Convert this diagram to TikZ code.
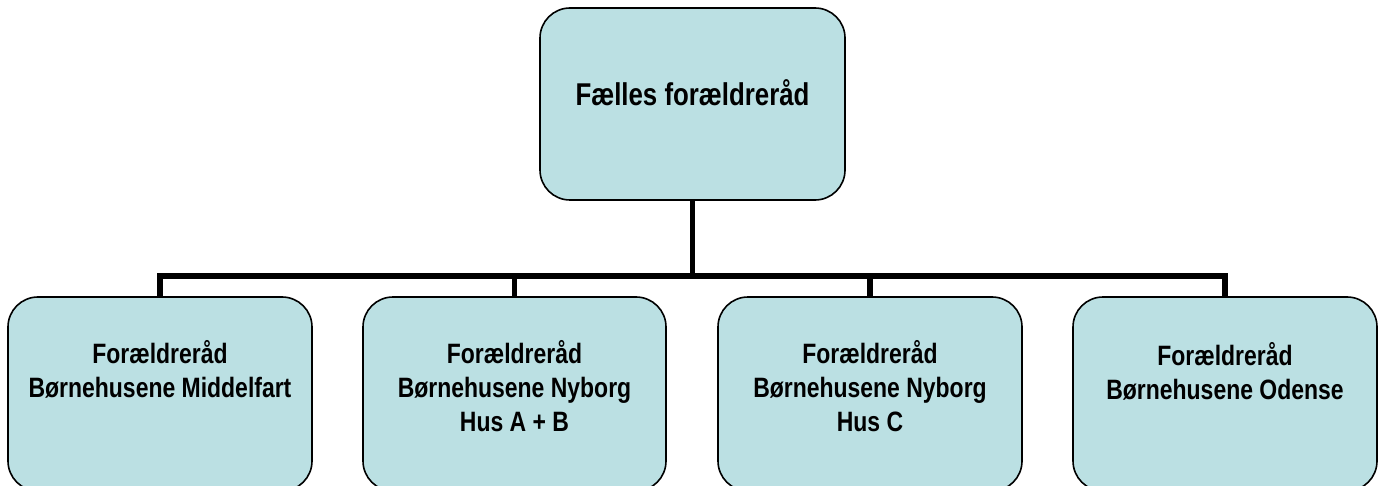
\documentclass[tikz,border=0pt]{standalone}
\usepackage{fontspec}
\setmainfont{Liberation Sans}[FakeStretch=0.82]
\definecolor{boxfill}{HTML}{BBE0E3}
\begin{document}
\begin{tikzpicture}[x=1pt,y=-1pt,
  box/.style={draw=black, line width=1.6pt, fill=boxfill, rounded corners=30pt, inner sep=0pt, minimum width=304pt, minimum height=194pt},
  conn/.style={draw=black, line width=5.5pt, line join=miter},
  lbl/.style={inner sep=0pt, anchor=base, font=\bfseries\fontsize{28}{34}\selectfont},
  toplbl/.style={inner sep=0pt, anchor=base, font=\bfseries\fontsize{31.5}{38}\selectfont}]
\useasboundingbox (0,0) rectangle (1383,486);
\begin{scope}
\clip (0,0) rectangle (1383,486);
\node[box, minimum width=305pt, minimum height=192pt] (top) at (692.5,104) {};
\node[box] (b1) at (160,394) {};
\node[box, minimum width=303pt] (b2) at (514.5,394) {};
\node[box] (b3) at (870,394) {};
\node[box] (b4) at (1225,394) {};
\coordinate (bus) at (692.5,276);
\draw[conn] (top.south) -- (bus);
\draw[conn] (b1.north) -- (b1.north |- bus) -- (b4.north |- bus) -- (b4.north);
\draw[conn] (b2.north) -- (b2.north |- bus);
\draw[conn] (b3.north) -- (b3.north |- bus);
\node[toplbl] (ttop) at (692.5,106) {Fælles forældreråd};
\node[lbl] (t1) at (160,363) {\setlength{\tabcolsep}{0pt}\begin{tabular}[t]{c}Forældreråd\\Børnehusene Middelfart\end{tabular}};
\node[lbl] (t2) at (514.5,363) {\setlength{\tabcolsep}{0pt}\begin{tabular}[t]{c}Forældreråd\\Børnehusene Nyborg\\Hus A + B\end{tabular}};
\node[lbl] (t3) at (870,363) {\setlength{\tabcolsep}{0pt}\begin{tabular}[t]{c}Forældreråd\\Børnehusene Nyborg\\Hus C\end{tabular}};
\node[lbl] (t4) at (1225,365) {\setlength{\tabcolsep}{0pt}\begin{tabular}[t]{c}Forældreråd\\Børnehusene Odense\end{tabular}};
\end{scope}
\end{tikzpicture}
\end{document}
